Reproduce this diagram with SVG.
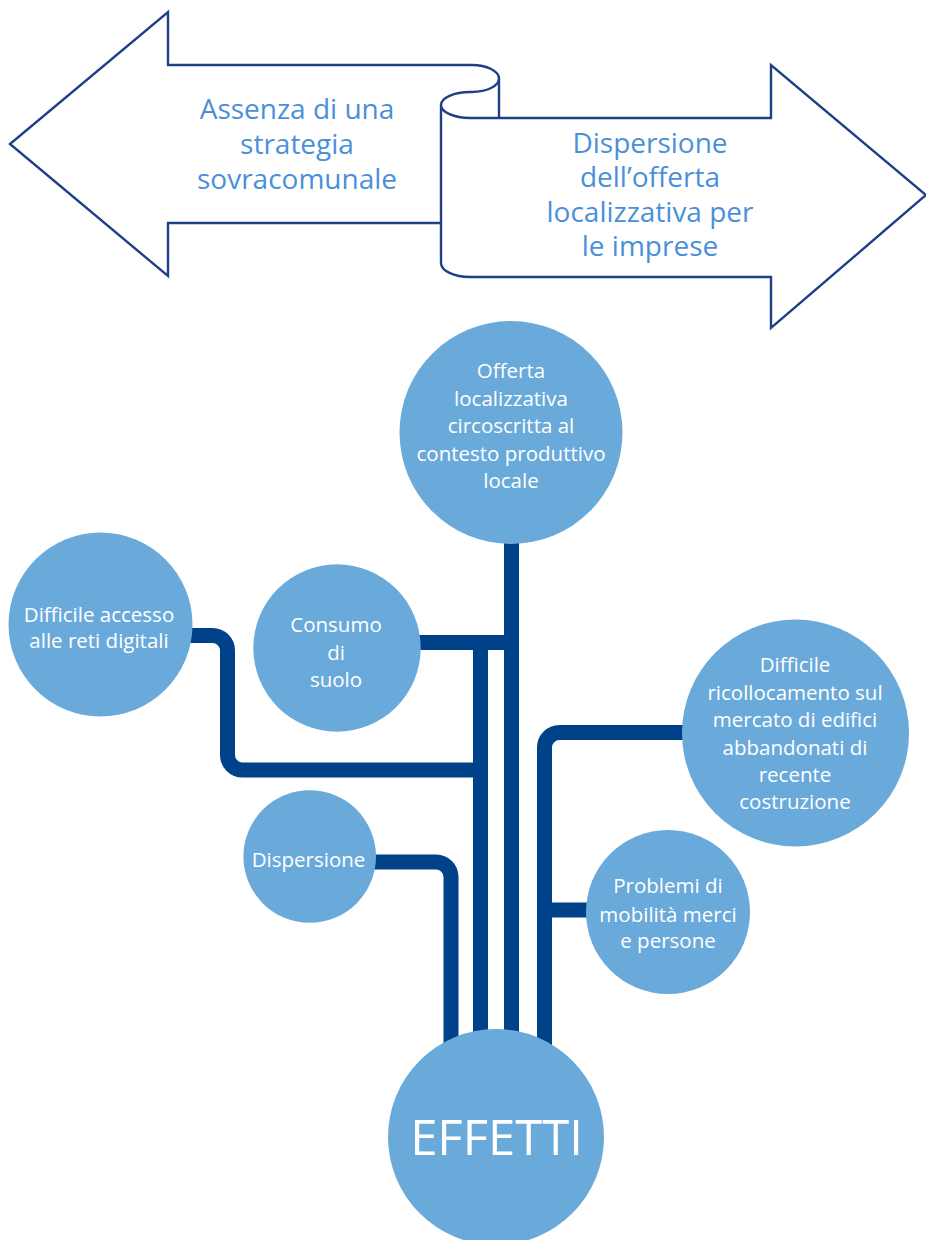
<svg xmlns="http://www.w3.org/2000/svg" width="926" height="1240" viewBox="0 0 926 1240">
<style>
.arrow{fill:none;stroke:#1f3f86;stroke-width:2.4;stroke-linejoin:miter}
.atxt{font-family:"Open Sans","Liberation Sans",sans-serif;font-size:28px;fill:#4a90d9;text-anchor:middle}
.conn{fill:none;stroke:#00428a;stroke-width:15}
.node{fill:#6aaadb}
.ntxt{font-family:"Open Sans","Liberation Sans",sans-serif;font-size:20.5px;fill:#ffffff;text-anchor:middle}
.big{font-family:"Open Sans","Liberation Sans",sans-serif;font-size:49px;fill:#ffffff;text-anchor:middle}
</style>
<rect width="926" height="1240" fill="#ffffff"/>
<g id="banner">
<path class="arrow" d="M441,223 L168,223 L168,276 L10,144 L168,12 L168,65 L472,65 A27,13.5 0 0 1 472,92 L470,92 A29,13 0 0 0 441,105 A29,13 0 0 0 470,118 L771,118 L771,65 L926,195 L771,328 L771,277 L470,277 A29,14 0 0 1 441,263 L441,105"/>
<path class="arrow" d="M499,78.5 L499,118"/>
</g>
<g id="left-arrow-text">
<text class="atxt" x="297" y="119">Assenza di una</text>
<text class="atxt" x="297" y="154">strategia</text>
<text class="atxt" x="297" y="189">sovracomunale</text>
</g>
<g id="right-arrow-text">
<text class="atxt" x="650" y="153">Dispersione</text>
<text class="atxt" x="650" y="187">dell’offerta</text>
<text class="atxt" x="650" y="222">localizzativa per</text>
<text class="atxt" x="650" y="256">le imprese</text>
</g>
<g id="connectors">
<path class="conn" d="M511.5,540 L511.5,1070"/>
<path class="conn" d="M415,642.5 L511.5,642.5"/>
<path class="conn" d="M480.5,635 L480.5,1070"/>
<path class="conn" d="M185,635.5 L212.5,635.5 A15,15 0 0 1 227.5,650.5 L227.5,755 A15,15 0 0 0 242.5,770 L480.5,770"/>
<path class="conn" d="M370,862 L436,862 A15,15 0 0 1 451,877 L451,1070"/>
<path class="conn" d="M690,732.5 L559.5,732.5 A15,15 0 0 0 544.5,747.5 L544.5,1070"/>
<path class="conn" d="M544.5,910 L595,910"/>
</g>
<g id="node-offerta">
<circle class="node" cx="511" cy="432.5" r="111.5"/>
<text class="ntxt" x="511" y="378">Offerta</text>
<text class="ntxt" x="511" y="405.5">localizzativa</text>
<text class="ntxt" x="511" y="433">circoscritta al</text>
<text class="ntxt" x="511" y="460.5">contesto produttivo</text>
<text class="ntxt" x="511" y="488">locale</text>
</g>
<g id="node-accesso">
<circle class="node" cx="100.5" cy="624.5" r="92"/>
<text class="ntxt" x="99" y="622">Difficile accesso</text>
<text class="ntxt" x="99" y="648">alle reti digitali</text>
</g>
<g id="node-consumo">
<circle class="node" cx="337" cy="648" r="83.7"/>
<text class="ntxt" x="336" y="632">Consumo</text>
<text class="ntxt" x="336" y="660">di</text>
<text class="ntxt" x="336" y="687">suolo</text>
</g>
<g id="node-ricollocamento">
<circle class="node" cx="795.5" cy="733" r="113.5"/>
<text class="ntxt" x="795" y="672">Difficile</text>
<text class="ntxt" x="795" y="700">ricollocamento sul</text>
<text class="ntxt" x="795" y="727">mercato di edifici</text>
<text class="ntxt" x="795" y="755">abbandonati di</text>
<text class="ntxt" x="795" y="782">recente</text>
<text class="ntxt" x="795" y="809">costruzione</text>
</g>
<g id="node-dispersione">
<circle class="node" cx="309.7" cy="856.5" r="66.3"/>
<text class="ntxt" x="308.5" y="867">Dispersione</text>
</g>
<g id="node-mobilita">
<circle class="node" cx="668" cy="912" r="82"/>
<text class="ntxt" x="668" y="893">Problemi di</text>
<text class="ntxt" x="668" y="921.5">mobilità merci</text>
<text class="ntxt" x="668" y="948">e persone</text>
</g>
<g id="node-effetti">
<circle class="node" cx="496" cy="1137" r="108"/>
<text class="big" x="496.5" y="1155">EFFETTI</text>
</g>
</svg>
